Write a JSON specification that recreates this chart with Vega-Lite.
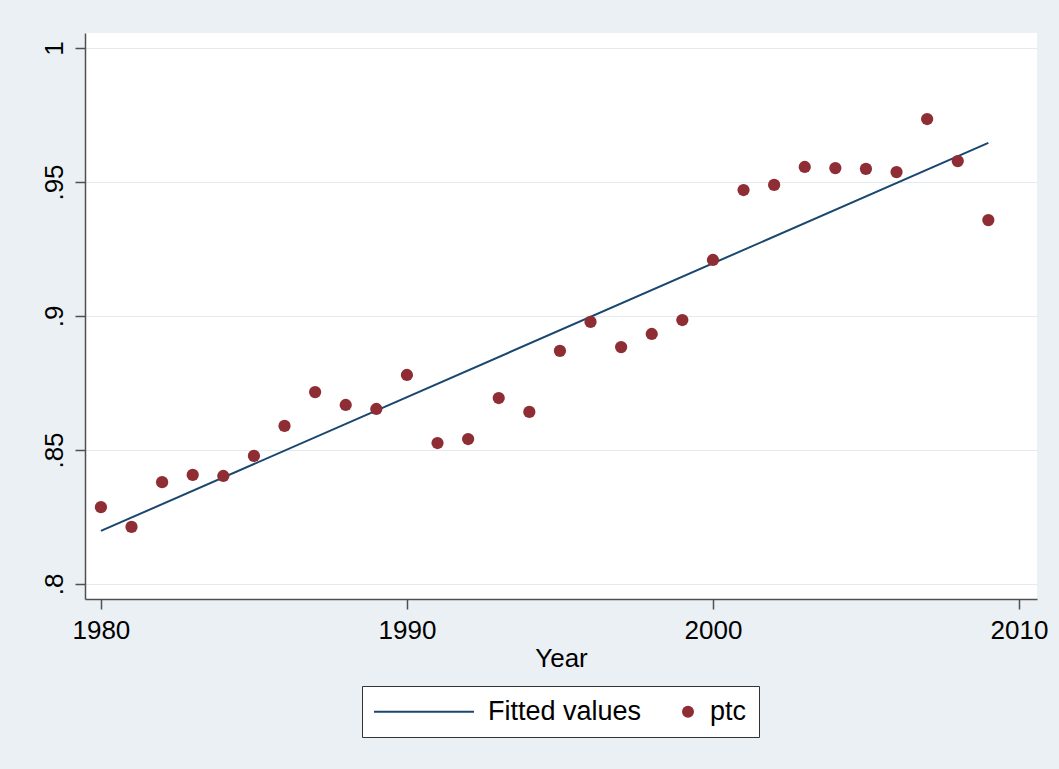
{
  "$schema": "https://vega.github.io/schema/vega-lite/v6.json",
  "width": 952,
  "height": 566,
  "autosize": {"type": "none"},
  "padding": {"left": 85, "top": 33, "right": 22, "bottom": 170},
  "background": "#eaf0f3",
  "config": {
    "view": {"stroke": null, "fill": "#ffffff"},
    "font": "Liberation Sans",
    "axis": {
      "labelFont": "Liberation Sans",
      "titleFont": "Liberation Sans",
      "labelFontSize": 26,
      "titleFontSize": 26,
      "titleFontWeight": "normal",
      "labelColor": "#000000",
      "titleColor": "#000000",
      "domainColor": "#505050",
      "domainWidth": 1.5,
      "tickColor": "#505050",
      "tickWidth": 1.5,
      "tickSize": 10
    }
  },
  "datasets": {
    "fit": [
      {"Year": 1980, "value": 0.8198, "series": "Fitted values"},
      {"Year": 2009, "value": 0.9646, "series": "Fitted values"}
    ],
    "ptc": [
      {"Year": 1980, "value": 0.8287, "series": "ptc"},
      {"Year": 1981, "value": 0.8213, "series": "ptc"},
      {"Year": 1982, "value": 0.838, "series": "ptc"},
      {"Year": 1983, "value": 0.8407, "series": "ptc"},
      {"Year": 1984, "value": 0.8403, "series": "ptc"},
      {"Year": 1985, "value": 0.8478, "series": "ptc"},
      {"Year": 1986, "value": 0.859, "series": "ptc"},
      {"Year": 1987, "value": 0.8716, "series": "ptc"},
      {"Year": 1988, "value": 0.8668, "series": "ptc"},
      {"Year": 1989, "value": 0.8653, "series": "ptc"},
      {"Year": 1990, "value": 0.878, "series": "ptc"},
      {"Year": 1991, "value": 0.8526, "series": "ptc"},
      {"Year": 1992, "value": 0.8541, "series": "ptc"},
      {"Year": 1993, "value": 0.8694, "series": "ptc"},
      {"Year": 1994, "value": 0.8642, "series": "ptc"},
      {"Year": 1995, "value": 0.887, "series": "ptc"},
      {"Year": 1996, "value": 0.8978, "series": "ptc"},
      {"Year": 1997, "value": 0.8884, "series": "ptc"},
      {"Year": 1998, "value": 0.8933, "series": "ptc"},
      {"Year": 1999, "value": 0.8985, "series": "ptc"},
      {"Year": 2000, "value": 0.9209, "series": "ptc"},
      {"Year": 2001, "value": 0.947, "series": "ptc"},
      {"Year": 2002, "value": 0.9489, "series": "ptc"},
      {"Year": 2003, "value": 0.9556, "series": "ptc"},
      {"Year": 2004, "value": 0.9552, "series": "ptc"},
      {"Year": 2005, "value": 0.9549, "series": "ptc"},
      {"Year": 2006, "value": 0.9537, "series": "ptc"},
      {"Year": 2007, "value": 0.9735, "series": "ptc"},
      {"Year": 2008, "value": 0.9578, "series": "ptc"},
      {"Year": 2009, "value": 0.9358, "series": "ptc"}
    ]
  },
  "encoding": {
    "x": {
      "field": "Year",
      "type": "quantitative",
      "scale": {"domain": [1979.48, 2010.59], "nice": false, "zero": false},
      "axis": {
        "values": [1980, 1990, 2000, 2010],
        "format": "d",
        "title": "Year",
        "grid": false,
        "labelPadding": 8,
        "titlePadding": 2
      }
    },
    "y": {
      "field": "value",
      "type": "quantitative",
      "scale": {"domain": [0.7944, 1.0056], "nice": false, "zero": false},
      "axis": {
        "values": [0.8, 0.85, 0.9, 0.95, 1],
        "labelExpr": "datum.value == 1 ? '1' : slice(format(datum.value, '.2~f'), 1)",
        "title": null,
        "grid": true,
        "gridColor": "#e4ebee",
        "gridWidth": 1,
        "labelAngle": -90,
        "labelAlign": "center",
        "labelBaseline": "bottom",
        "labelPadding": 8
      }
    },
    "color": {
      "field": "series",
      "type": "nominal",
      "scale": {"domain": ["Fitted values", "ptc"], "range": ["#1a476f", "#8e2d34"]},
      "legend": {
        "title": null,
        "orient": "none",
        "legendX": 277,
        "legendY": 653,
        "direction": "horizontal",
        "columns": 2,
        "columnPadding": 40,
        "padding": 12,
        "strokeColor": "#333333",
        "fillColor": "#ffffff",
        "labelFont": "Liberation Sans",
        "labelFontSize": 27,
        "labelColor": "#000000",
        "labelLimit": 300,
        "symbolSize": 144,
        "encode": {
          "symbols": {
            "update": {
              "x": {"signal": "datum.value === 'Fitted values' ? 50 : 6"},
              "shape": {"signal": "datum.value === 'Fitted values' ? 'stroke' : 'circle'"},
              "size": {"signal": "datum.value === 'Fitted values' ? 10000 : 144"},
              "fill": {"scale": "color", "field": "value"},
              "stroke": {"scale": "color", "field": "value"},
              "strokeWidth": {"signal": "datum.value === 'Fitted values' ? 2 : 0"},
              "opacity": {"value": 1},
              "fillOpacity": {"value": 1},
              "strokeOpacity": {"value": 1}
            }
          },
          "labels": {
            "update": {
              "x": {"signal": "datum.value === 'Fitted values' ? 114 : 28"}
            }
          }
        }
      }
    }
  },
  "layer": [
    {
      "data": {"name": "fit"},
      "mark": {"type": "line", "strokeWidth": 2}
    },
    {
      "data": {"name": "ptc"},
      "mark": {"type": "circle", "size": 150, "opacity": 1}
    }
  ]
}
